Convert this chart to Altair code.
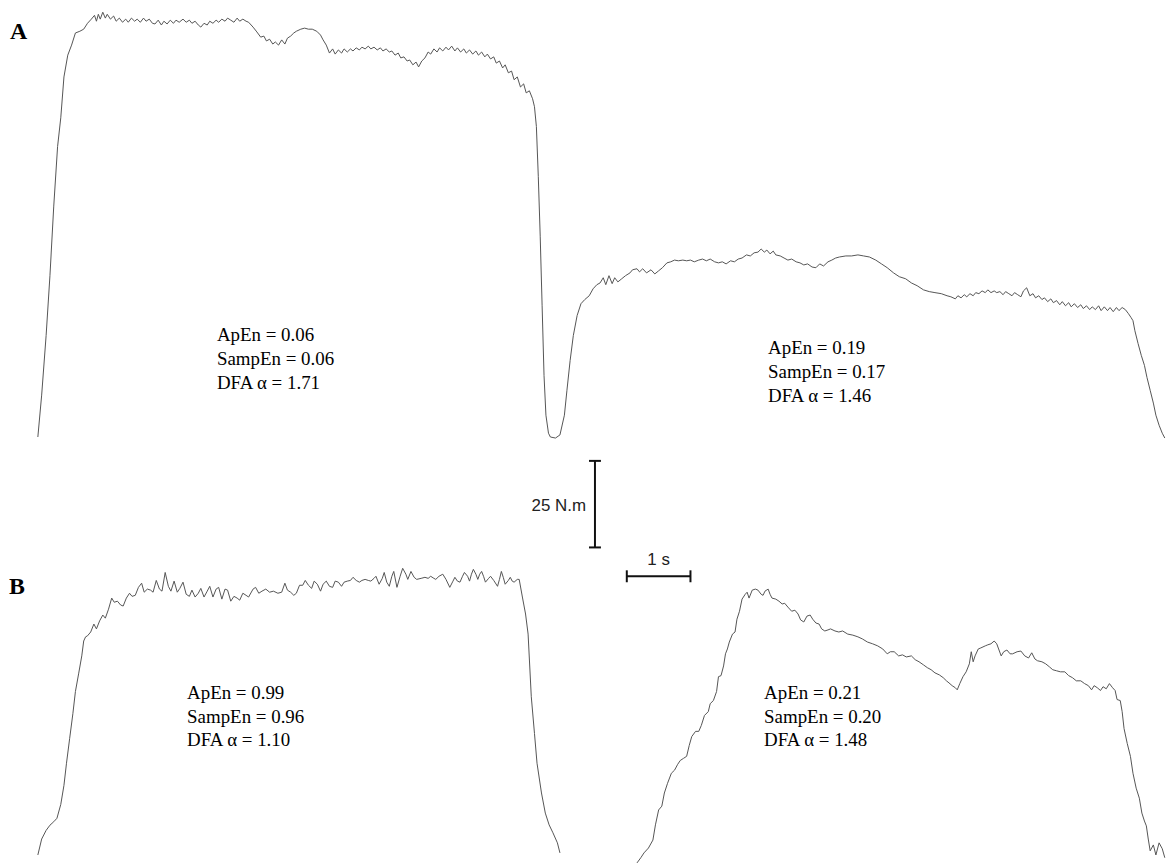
import altair as alt
import pandas as pd

# ---------------- data (time in s, torque in N.m) ----------------
# Panel A: one continuous recording with two contractions
A_time = [
    0.00, 0.06, 0.13, 0.19, 0.25, 0.31, 0.36, 0.41, 0.47, 0.53,
    0.59, 0.66, 0.72, 0.78, 0.84, 0.89, 0.92, 0.95, 0.98, 1.02,
    1.06, 1.09, 1.14, 1.19, 1.23, 1.28, 1.33, 1.38, 1.42, 1.47,
    1.52, 1.56, 1.61, 1.66, 1.70, 1.75, 1.80, 1.84, 1.89, 1.94,
    1.98, 2.03, 2.08, 2.13, 2.17, 2.22, 2.28, 2.33, 2.38, 2.42,
    2.47, 2.52, 2.56, 2.61, 2.66, 2.70, 2.75, 2.80, 2.84, 2.89,
    2.94, 2.98, 3.03, 3.08, 3.13, 3.17, 3.22, 3.27, 3.31, 3.38,
    3.44, 3.50, 3.55, 3.59, 3.64, 3.69, 3.73, 3.78, 3.83, 3.88,
    3.92, 3.97, 4.02, 4.06, 4.13, 4.19, 4.25, 4.31, 4.38, 4.44,
    4.48, 4.53, 4.58, 4.63, 4.67, 4.72, 4.77, 4.81, 4.86, 4.91,
    4.95, 5.00, 5.05, 5.09, 5.14, 5.19, 5.23, 5.28, 5.33, 5.38,
    5.42, 5.47, 5.52, 5.56, 5.61, 5.66, 5.70, 5.75, 5.80, 5.84,
    5.89, 5.94, 5.98, 6.03, 6.08, 6.13, 6.17, 6.22, 6.27, 6.31,
    6.36, 6.41, 6.45, 6.50, 6.55, 6.59, 6.64, 6.69, 6.73, 6.78,
    6.83, 6.88, 6.92, 6.97, 7.02, 7.06, 7.11, 7.16, 7.20, 7.25,
    7.30, 7.34, 7.39, 7.44, 7.48, 7.53, 7.58, 7.63, 7.67, 7.72,
    7.77, 7.80, 7.83, 7.86, 7.89, 7.92, 7.95, 7.98, 8.02, 8.05,
    8.13, 8.20, 8.27, 8.31, 8.36, 8.41, 8.47, 8.53, 8.59, 8.66,
    8.72, 8.78, 8.83, 8.88, 8.92, 8.97, 9.02, 9.06, 9.11, 9.17,
    9.23, 9.30, 9.34, 9.41, 9.45, 9.50, 9.56, 9.63, 9.69, 9.75,
    9.81, 9.88, 9.94, 10.00, 10.06, 10.13, 10.19, 10.25, 10.31, 10.38,
    10.44, 10.50, 10.56, 10.63, 10.69, 10.75, 10.81, 10.88, 10.94, 11.00,
    11.06, 11.13, 11.19, 11.25, 11.31, 11.36, 11.41, 11.45, 11.50, 11.55,
    11.59, 11.66, 11.72, 11.78, 11.84, 11.91, 11.97, 12.03, 12.09, 12.16,
    12.22, 12.28, 12.34, 12.41, 12.47, 12.53, 12.59, 12.69, 12.78, 12.88,
    12.97, 13.06, 13.16, 13.25, 13.34, 13.44, 13.53, 13.63, 13.72, 13.81,
    13.91, 14.00, 14.09, 14.19, 14.28, 14.34, 14.41, 14.45, 14.50, 14.55,
    14.59, 14.64, 14.69, 14.73, 14.78, 14.83, 14.88, 14.92, 14.97, 15.02,
    15.06, 15.11, 15.16, 15.20, 15.25, 15.30, 15.34, 15.39, 15.44, 15.48,
    15.53, 15.58, 15.63, 15.67, 15.72, 15.77, 15.81, 15.86, 15.91, 15.95,
    16.00, 16.05, 16.09, 16.14, 16.19, 16.23, 16.28, 16.33, 16.38, 16.42,
    16.47, 16.52, 16.56, 16.61, 16.66, 16.70, 16.75, 16.80, 16.84, 16.89,
    16.94, 16.98, 17.03, 17.08, 17.13, 17.17, 17.20, 17.23, 17.28, 17.33,
    17.38, 17.42, 17.47, 17.52, 17.56, 17.61, 17.66, 17.70,
]
A_torque = [
    0.0, 12.1, 29.3, 46.6, 66.7, 83.9, 92.2, 104.0, 110.3, 113.2,
    116.7, 117.2, 117.8, 119.5, 120.7, 121.8, 120.1, 122.1, 120.7, 122.7,
    121.0, 122.1, 120.7, 121.6, 120.1, 121.0, 119.8, 120.7, 119.8, 121.0,
    120.1, 120.7, 119.8, 121.0, 120.1, 120.7, 119.5, 119.3, 120.4, 119.0,
    120.1, 119.3, 120.4, 119.5, 120.4, 119.8, 120.7, 119.8, 120.4, 119.5,
    120.1, 119.0, 118.4, 119.5, 119.0, 120.1, 119.5, 120.4, 119.8, 120.7,
    120.1, 121.0, 120.4, 119.8, 121.0, 120.1, 120.7, 120.1, 119.8, 118.4,
    117.0, 115.5, 115.8, 114.4, 114.9, 113.5, 114.1, 113.2, 114.7, 113.5,
    115.2, 115.8, 116.7, 117.2, 117.8, 118.1, 117.8, 117.8, 117.2, 116.1,
    114.7, 113.2, 110.9, 112.1, 110.6, 111.8, 110.9, 112.1, 111.2, 112.1,
    111.5, 112.4, 111.8, 112.6, 112.1, 112.9, 112.1, 112.6, 111.8, 112.4,
    111.5, 112.1, 111.2, 111.5, 110.3, 110.9, 109.5, 109.8, 108.6, 108.9,
    107.5, 108.3, 106.9, 108.6, 109.5, 111.2, 110.6, 112.1, 111.2, 112.4,
    111.5, 112.6, 111.8, 112.9, 111.5, 112.4, 111.2, 112.1, 110.9, 111.8,
    110.6, 111.5, 110.3, 111.2, 109.8, 110.6, 109.2, 109.8, 108.0, 108.6,
    106.6, 107.5, 105.2, 105.7, 103.2, 104.0, 101.1, 102.0, 99.4, 100.0,
    97.7, 95.4, 89.7, 75.3, 58.0, 37.9, 17.8, 6.3, 1.1, 0.0,
    -0.3, 0.6, 6.3, 13.5, 22.1, 29.3, 35.1, 38.5, 39.7, 40.8,
    42.8, 44.0, 44.5, 46.0, 44.0, 46.6, 44.3, 46.0, 44.8, 45.7,
    46.6, 47.4, 48.3, 48.6, 47.7, 48.6, 47.4, 48.3, 47.1, 48.0,
    48.9, 50.3, 50.6, 51.1, 50.9, 51.1, 50.9, 51.1, 50.6, 51.1,
    51.4, 50.9, 51.4, 50.6, 50.3, 50.6, 50.0, 50.9, 50.6, 51.4,
    51.7, 52.6, 52.3, 53.2, 53.4, 54.3, 53.4, 54.0, 52.9, 53.7,
    52.6, 52.3, 51.7, 51.1, 51.4, 50.6, 50.3, 49.7, 50.0, 49.1,
    48.9, 50.0, 49.4, 50.6, 51.1, 51.7, 52.0, 52.3, 52.3, 52.6,
    52.3, 52.0, 51.1, 50.0, 48.9, 47.4, 46.3, 45.7, 44.5, 43.7,
    42.5, 42.0, 41.7, 41.4, 40.8, 40.5, 39.9, 40.8, 40.2, 41.1,
    40.5, 41.4, 40.8, 41.7, 41.4, 42.2, 41.7, 42.5, 41.7, 42.2,
    41.7, 42.0, 41.1, 42.0, 41.4, 40.8, 41.7, 41.1, 40.5, 42.2,
    43.1, 40.8, 41.4, 40.2, 40.8, 39.7, 40.2, 39.1, 39.9, 38.8,
    39.4, 38.2, 39.1, 37.9, 38.8, 37.6, 38.5, 37.4, 38.2, 37.1,
    37.9, 36.8, 37.6, 36.8, 37.9, 36.5, 37.6, 36.5, 37.4, 36.2,
    37.4, 36.5, 37.4, 36.8, 35.6, 34.5, 33.6, 30.7, 27.0, 23.6,
    20.7, 17.2, 13.5, 9.8, 6.3, 3.4, 1.1, -0.3,
]

# Panel B: first contraction
B1_time = [
    0.00, 0.06, 0.13, 0.19, 0.25, 0.30, 0.36, 0.41, 0.45, 0.50,
    0.55, 0.59, 0.64, 0.69, 0.72, 0.75, 0.78, 0.83, 0.88, 0.92,
    0.97, 1.02, 1.06, 1.11, 1.16, 1.20, 1.25, 1.30, 1.34, 1.39,
    1.44, 1.48, 1.53, 1.58, 1.63, 1.67, 1.72, 1.77, 1.81, 1.86,
    1.91, 1.95, 2.00, 2.05, 2.09, 2.14, 2.19, 2.23, 2.28, 2.33,
    2.38, 2.42, 2.47, 2.52, 2.56, 2.61, 2.66, 2.70, 2.75, 2.80,
    2.84, 2.89, 2.94, 2.98, 3.03, 3.08, 3.13, 3.17, 3.22, 3.27,
    3.31, 3.38, 3.42, 3.47, 3.52, 3.58, 3.64, 3.70, 3.77, 3.83,
    3.88, 3.92, 3.97, 4.02, 4.06, 4.11, 4.16, 4.20, 4.25, 4.30,
    4.34, 4.39, 4.44, 4.48, 4.53, 4.58, 4.63, 4.67, 4.72, 4.77,
    4.81, 4.86, 4.91, 4.95, 5.00, 5.05, 5.09, 5.14, 5.19, 5.23,
    5.28, 5.31, 5.36, 5.41, 5.44, 5.48, 5.52, 5.56, 5.59, 5.64,
    5.69, 5.73, 5.78, 5.81, 5.86, 5.91, 5.95, 6.02, 6.08, 6.13,
    6.17, 6.22, 6.25, 6.30, 6.36, 6.41, 6.47, 6.52, 6.55, 6.59,
    6.63, 6.67, 6.70, 6.75, 6.78, 6.81, 6.84, 6.88, 6.91, 6.94,
    6.97, 7.00, 7.03, 7.08, 7.11, 7.16, 7.22, 7.25, 7.28, 7.31,
    7.34, 7.39, 7.42, 7.45, 7.48, 7.53, 7.56, 7.61, 7.66, 7.70,
    7.75, 7.80, 7.84, 7.91, 7.97, 8.03, 8.09, 8.16, 8.20,
]
B1_torque = [
    1.4, 6.0, 8.5, 10.0, 11.0, 12.0, 16.0, 21.5, 27.9, 35.1,
    42.2, 48.6, 53.7, 58.9, 63.2, 64.4, 64.7, 65.8, 68.1, 66.7,
    69.0, 70.7, 69.8, 72.4, 75.6, 74.4, 74.7, 73.6, 73.3, 75.6,
    77.0, 76.1, 76.4, 78.7, 79.9, 77.3, 78.2, 77.9, 77.3, 80.7,
    78.2, 77.6, 83.0, 79.0, 77.6, 80.5, 77.3, 78.4, 80.2, 76.7,
    76.1, 77.9, 75.9, 77.0, 78.4, 75.9, 77.6, 79.0, 75.9, 78.2,
    78.7, 75.3, 78.2, 77.9, 74.7, 76.1, 75.6, 75.0, 77.0, 76.4,
    75.9, 78.2, 78.7, 77.0, 77.6, 78.2, 77.3, 77.6, 77.0, 77.3,
    79.9, 77.9, 77.3, 76.4, 77.0, 79.3, 79.3, 80.7, 79.3, 78.4,
    80.5, 79.6, 77.6, 79.6, 80.5, 79.0, 78.7, 80.5, 80.2, 79.0,
    80.2, 80.5, 80.7, 81.6, 80.7, 80.2, 80.7, 81.0, 80.7, 80.5,
    81.3, 81.9, 79.6, 81.3, 83.0, 80.2, 79.0, 81.9, 83.3, 78.7,
    81.9, 84.2, 82.5, 81.0, 83.3, 81.6, 81.0, 81.3, 81.6, 81.3,
    81.9, 81.3, 81.0, 81.9, 82.5, 81.0, 78.7, 80.5, 81.6, 80.5,
    80.2, 81.9, 83.0, 81.9, 80.5, 82.5, 83.9, 82.5, 81.0, 82.5,
    83.3, 81.9, 80.2, 81.3, 81.9, 80.7, 79.0, 81.0, 83.3, 81.6,
    79.6, 80.7, 81.6, 80.5, 80.2, 81.0, 81.0, 75.9, 71.0, 65.2,
    47.1, 36.5, 27.9, 19.3, 13.5, 10.1, 7.8, 4.9, 2.0,
]

# Panel B: second contraction
B2_time = [
    9.41, 9.47, 9.52, 9.59, 9.66, 9.70, 9.75, 9.80, 9.84, 9.89,
    9.95, 10.00, 10.05, 10.09, 10.14, 10.19, 10.23, 10.27, 10.33, 10.38,
    10.42, 10.47, 10.53, 10.56, 10.61, 10.66, 10.69, 10.73, 10.77, 10.80,
    10.83, 10.86, 10.91, 10.95, 10.98, 11.02, 11.06, 11.11, 11.14, 11.17,
    11.22, 11.27, 11.31, 11.36, 11.39, 11.42, 11.47, 11.50, 11.53, 11.59,
    11.64, 11.69, 11.73, 11.78, 11.84, 11.89, 11.94, 11.98, 12.03, 12.08,
    12.13, 12.17, 12.22, 12.27, 12.31, 12.36, 12.41, 12.45, 12.52, 12.58,
    12.64, 12.72, 12.80, 12.88, 12.95, 13.03, 13.11, 13.19, 13.27, 13.34,
    13.39, 13.45, 13.52, 13.58, 13.64, 13.72, 13.78, 13.84, 13.91, 13.97,
    14.03, 14.09, 14.16, 14.22, 14.27, 14.31, 14.36, 14.41, 14.44, 14.48,
    14.53, 14.58, 14.63, 14.66, 14.69, 14.72, 14.77, 14.81, 14.88, 14.92,
    14.97, 15.02, 15.06, 15.09, 15.13, 15.17, 15.22, 15.27, 15.31, 15.38,
    15.44, 15.50, 15.56, 15.61, 15.66, 15.70, 15.77, 15.83, 15.89, 15.94,
    16.00, 16.06, 16.13, 16.19, 16.25, 16.31, 16.38, 16.44, 16.50, 16.55,
    16.59, 16.64, 16.69, 16.73, 16.78, 16.83, 16.88, 16.92, 16.95, 17.00,
    17.03, 17.06, 17.11, 17.16, 17.20, 17.25, 17.30, 17.34, 17.38, 17.41,
    17.44, 17.47, 17.52, 17.56, 17.61, 17.66, 17.70,
]
B2_torque = [
    -0.9, 0.6, 2.0, 3.4, 5.7, 10.1, 14.4, 15.5, 19.3, 22.1,
    25.0, 25.9, 27.6, 28.7, 29.3, 29.9, 33.0, 35.6, 37.1, 37.1,
    38.8, 41.7, 42.8, 45.1, 46.0, 48.6, 52.9, 53.2, 56.0, 59.5,
    60.9, 62.9, 65.2, 65.8, 69.5, 71.8, 75.3, 76.7, 77.3, 75.6,
    77.9, 78.2, 77.9, 76.7, 76.4, 77.6, 78.2, 76.7, 75.6, 75.3,
    74.7, 73.9, 74.1, 73.0, 71.8, 72.1, 71.0, 69.3, 68.7, 70.4,
    70.7, 69.5, 68.4, 68.1, 66.7, 66.1, 66.4, 66.7, 66.1, 65.8,
    66.1, 65.2, 64.9, 64.4, 63.8, 62.9, 62.4, 61.8, 60.9, 59.5,
    60.1, 60.1, 58.9, 59.2, 58.6, 58.9, 57.8, 57.2, 56.3, 55.5,
    54.9, 54.0, 53.4, 52.6, 51.7, 51.1, 50.3, 49.7, 49.1, 50.9,
    52.9, 54.3, 56.6, 60.1, 57.2, 58.9, 60.9, 61.2, 61.8, 62.1,
    62.4, 63.2, 62.4, 60.9, 58.9, 60.1, 60.6, 59.5, 59.5, 60.1,
    60.3, 58.9, 58.3, 59.8, 58.0, 57.5, 57.2, 56.6, 55.7, 54.9,
    54.6, 54.3, 54.3, 53.2, 52.6, 51.7, 51.7, 50.9, 50.3, 49.1,
    50.3, 49.7, 48.9, 50.0, 49.4, 50.9, 49.7, 48.9, 46.3, 46.0,
    42.8, 37.9, 33.6, 29.9, 25.0, 20.7, 17.8, 13.5, 11.2, 9.8,
    6.0, 2.6, 4.3, 1.4, 4.9, 3.2, 0.6,
]

STAT_APEN = [0.06, 0.19, 0.99, 0.21]
STAT_SAMPEN = [0.06, 0.17, 0.96, 0.20]
STAT_DFA = [1.71, 1.46, 1.10, 1.48]
PANEL_LABELS = ["A", "B"]
SCALE_TORQUE = 25   # N.m
SCALE_TIME = 1      # s
SCALE_LABELS = ["25 N.m", "1 s"]

# ---------------- layout ----------------
W, H = 1159, 849
PX_PER_S = 64.0
PX_PER_NM = 3.48
SHIFT = 5  # px correction (everything moved up)
T0 = -30 / PX_PER_S
ROW_OFFSET = {"A": 425 / PX_PER_NM, "B": 0.0}

def page_t(px):
    return (px - 38) / PX_PER_S

def page_y(py):
    return (857 - py) / PX_PER_NM

rows = []
for name, row, ts, vs in [("A", "A", A_time, A_torque),
                          ("B1", "B", B1_time, B1_torque),
                          ("B2", "B", B2_time, B2_torque)]:
    for i, (t, v) in enumerate(zip(ts, vs)):
        rows.append({"series": name, "i": i, "t": t, "y": v + ROW_OFFSET[row]})
traces = pd.DataFrame(rows)

xs = alt.Scale(domain=[T0, T0 + W / PX_PER_S], nice=False, zero=False)
ys = alt.Scale(domain=[-SHIFT / PX_PER_NM, (H - SHIFT) / PX_PER_NM], nice=False, zero=False)

lines = alt.Chart(traces).mark_line(color="#555555", strokeWidth=1.0).encode(
    x=alt.X("t:Q", scale=xs, axis=None),
    y=alt.Y("y:Q", scale=ys, axis=None),
    detail="series:N",
    order="i:Q",
)

# scale bars
vx = page_t(598)
vy0 = page_y(543)
hx0 = page_t(630)
hy = page_y(572)
cap = 6 / PX_PER_S
tick = 6 / PX_PER_NM
bars = pd.DataFrame([
    {"t": vx, "t2": vx, "y": vy0, "y2": vy0 + SCALE_TORQUE},
    {"t": vx - cap, "t2": vx + cap, "y": vy0, "y2": vy0},
    {"t": vx - cap, "t2": vx + cap, "y": vy0 + SCALE_TORQUE, "y2": vy0 + SCALE_TORQUE},
    {"t": hx0, "t2": hx0 + SCALE_TIME, "y": hy, "y2": hy},
    {"t": hx0, "t2": hx0, "y": hy - tick, "y2": hy + tick},
    {"t": hx0 + SCALE_TIME, "t2": hx0 + SCALE_TIME, "y": hy - tick, "y2": hy + tick},
])
bar_chart = alt.Chart(bars).mark_rule(color="#111111", strokeWidth=2).encode(
    x=alt.X("t:Q", scale=xs, axis=None), x2="t2:Q",
    y=alt.Y("y:Q", scale=ys, axis=None), y2="y2:Q",
)

# text annotations (pixel positions relative to the plot origin)
OFFX = 8
OFFY = 8 + SHIFT
STAT_POS = [(218, 330), (772, 343), (188, 689), (768, 689)]
LINE_STEP = 24
stat_rows = []
for (x0, y0), a, s, d in zip(STAT_POS, STAT_APEN, STAT_SAMPEN, STAT_DFA):
    for k, txt in enumerate([f"ApEn = {a:.2f}", f"SampEn = {s:.2f}", f"DFA \u03b1 = {d:.2f}"]):
        stat_rows.append({"px": x0 - OFFX, "py": y0 + k * LINE_STEP - OFFY, "label": txt})
stats = alt.Chart(pd.DataFrame(stat_rows)).mark_text(
    align="left", baseline="middle", font="Liberation Serif", fontSize=19, color="#000000"
).encode(x=alt.X("px:Q", scale=None), y=alt.Y("py:Q", scale=None), text="label:N")

letters = alt.Chart(pd.DataFrame({
    "px": [10 - OFFX, 9 - OFFX], "py": [25 - OFFY, 583 - OFFY], "label": PANEL_LABELS
})).mark_text(
    align="left", baseline="middle", font="Liberation Serif", fontSize=24, fontWeight="bold", color="#000000"
).encode(x=alt.X("px:Q", scale=None), y=alt.Y("py:Q", scale=None), text="label:N")

scale_txt = alt.Chart(pd.DataFrame({
    "px": [589 - OFFX, 662 - OFFX], "py": [501 - OFFY, 556 - OFFY],
    "label": SCALE_LABELS, "al": ["right", "center"]
}))
scale_left = scale_txt.transform_filter("datum.al == 'right'").mark_text(
    align="right", baseline="middle", font="Liberation Sans", fontSize=17, color="#222222"
).encode(x=alt.X("px:Q", scale=None), y=alt.Y("py:Q", scale=None), text="label:N")
scale_mid = scale_txt.transform_filter("datum.al == 'center'").mark_text(
    align="center", baseline="middle", font="Liberation Sans", fontSize=17, color="#222222"
).encode(x=alt.X("px:Q", scale=None), y=alt.Y("py:Q", scale=None), text="label:N")

chart = alt.layer(lines, bar_chart, stats, letters, scale_left, scale_mid).properties(
    width=W, height=H, padding=0, background="white"
).configure_view(stroke=None)

chart.save("out.html", embed_options={"renderer": "svg", "actions": False})
